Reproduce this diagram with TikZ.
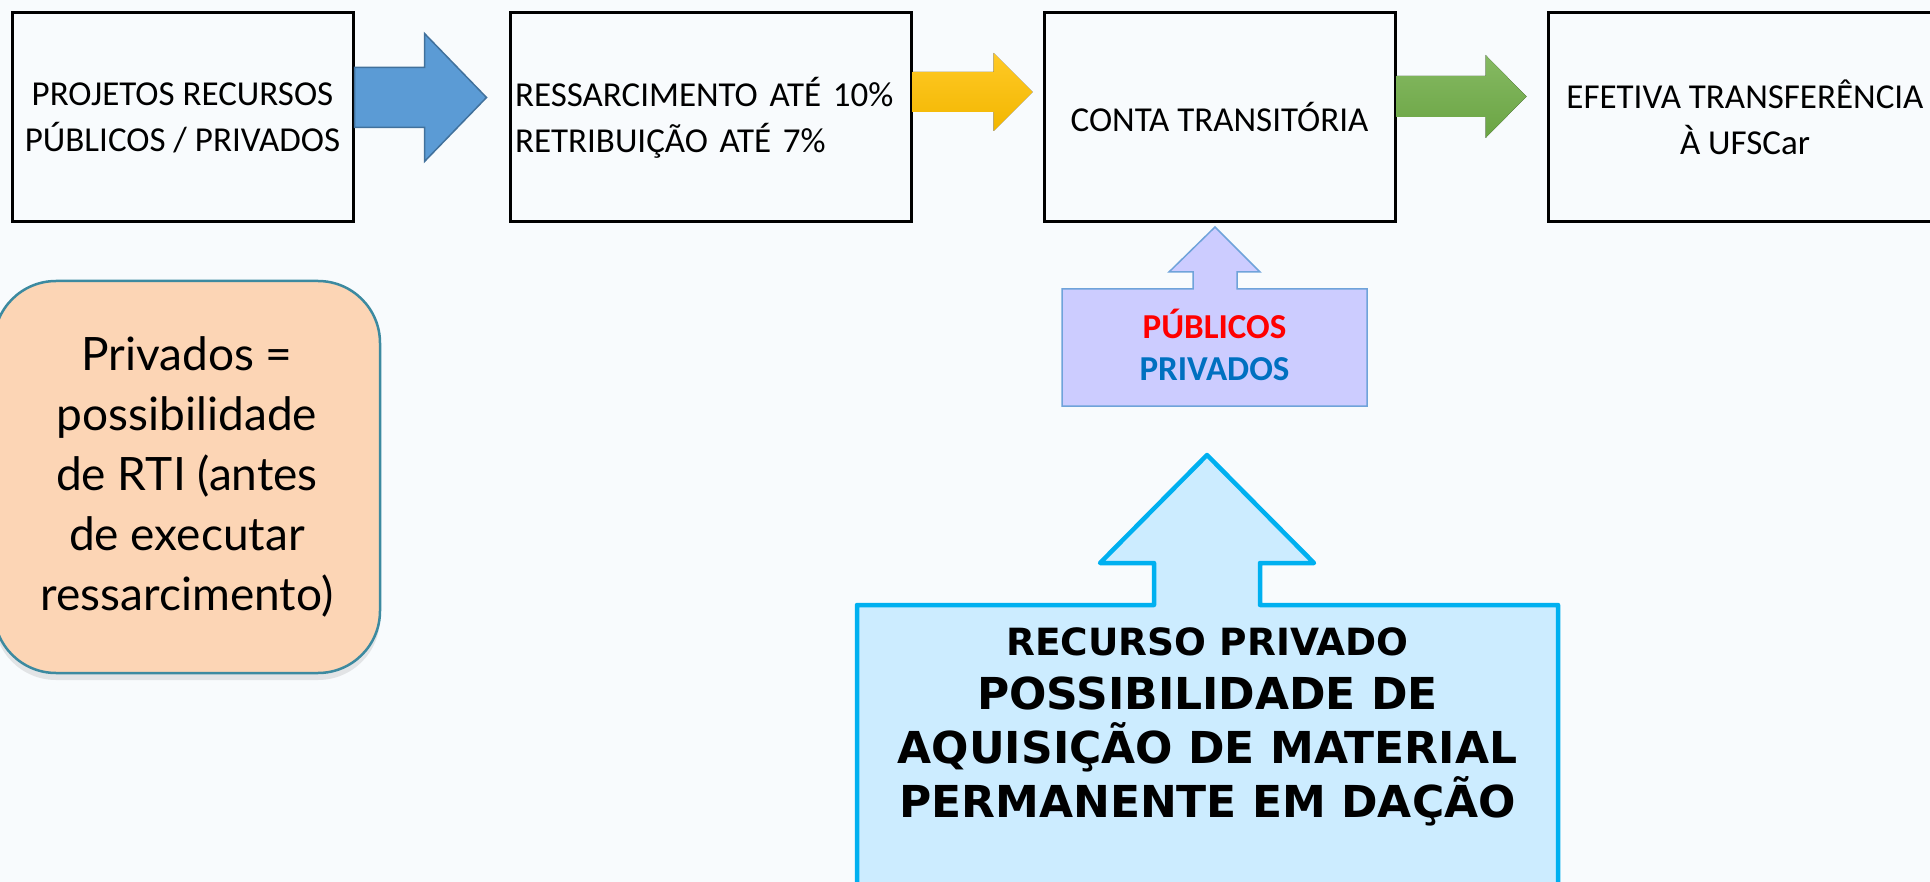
\documentclass[tikz,border=0pt]{standalone}
\usepackage{fontspec}
\setmainfont{Carlito}
\newfontfamily\gillfont{Lato}
\newfontfamily\heavyfont{DejaVu Sans}
\usetikzlibrary{positioning,calc,shadows}

\definecolor{bgcol}{RGB}{248,251,253}
\definecolor{arrblue}{HTML}{5B9BD5}
\definecolor{arrblueedge}{HTML}{41719C}
\definecolor{arryellow}{HTML}{FFC000}
\definecolor{arrgreen}{HTML}{70AD47}
\definecolor{peach}{HTML}{FCD5B5}
\definecolor{tealedge}{HTML}{3C8AA0}
\definecolor{lilac}{HTML}{CCCCFF}
\definecolor{lilacedge}{HTML}{6FA3DA}
\definecolor{pubred}{HTML}{FF0000}
\definecolor{privblue}{HTML}{0070C0}
\definecolor{skyfill}{HTML}{CCECFF}
\definecolor{skyedge}{HTML}{00B0F0}

% block arrow from one box towards the next: style, from, to, centre y, gap, shaft half, head half, head length
\newcommand{\blockarrow}[8]{%
  \path (#2.east |- 0,#4) coordinate (s) (#3.west |- 0,#4) ++(-#5,0) coordinate (t);
  \filldraw[#1] ($(s)+(0,-#6)$) -- ($(t)+(-#8,-#6)$) -- ($(t)+(-#8,-#7)$) -- (t)
    -- ($(t)+(-#8,#7)$) -- ($(t)+(-#8,#6)$) -- ($(s)+(0,#6)$) -- cycle;}

\begin{document}
\begin{tikzpicture}[x=1pt,y=-1pt,
    box/.style={draw=black,line width=3pt,fill=bgcol,minimum height=209pt,align=center,
      font=\fontsize{35}{46}\selectfont},
    privbox/.style={draw=tealedge,line width=2.5pt,fill=peach,rounded corners=62pt,
      minimum width=386pt,minimum height=392pt,align=center,
      font=\gillfont\fontsize{46}{60}\selectfont,
      drop shadow={shadow xshift=0pt,shadow yshift=-7pt,opacity=.18}},
    bluearr/.style={fill=arrblue,draw=arrblueedge,line width=1.5pt},
    yelarr/.style={top color=arryellow!85!white,bottom color=arryellow!95!black,draw=none},
    grnarr/.style={top color=arrgreen!85!white,bottom color=arrgreen!95!black,draw=none}]

    \fill[bgcol] (0,0) rectangle (1930,882);
    \useasboundingbox (0,0) rectangle (1930,882);

    \node[box,minimum width=341pt] (Proj) at (182.5,117.5) {PROJETOS RECURSOS\\PÚBLICOS / PRIVADOS};
    \node[box,minimum width=401pt,text width=391pt,inner xsep=5pt,align=left,right=154pt of Proj] (Ressarc)
      {RESSARCIMENTO ATÉ 10\%\\RETRIBUIÇÃO ATÉ 7\%};
    \node[box,minimum width=351pt,right=130pt of Ressarc] (Conta) {CONTA TRANSITÓRIA};
    \node[box,minimum width=394pt,right=150pt of Conta] (Efetiva) {EFETIVA TRANSFERÊNCIA\\À UFSCar};

    \blockarrow{bluearr}{Proj}{Ressarc}{97.5}{22}{30}{64}{62}
    \blockarrow{yelarr}{Ressarc}{Conta}{92}{10}{20}{39}{39}
    \blockarrow{grnarr}{Conta}{Efetiva}{96.5}{20}{20.5}{41.5}{41}

    \node[privbox] (Privados) at (187,477) {Privados =\\possibilidade\\de RTI (antes\\de executar\\ressarcimento)};

    % up arrow callouts
    \filldraw[fill=lilac,draw=lilacedge,line width=1.5pt] (1062,406) -- (1062,289) -- (1193,289) -- (1193,272)
      -- (1169,272) -- (1215,227) -- (1260,272) -- (1237,272) -- (1237,289) -- (1367,289) -- (1367,406) -- cycle;
    \node[align=center,font=\bfseries\fontsize{35}{42}\selectfont] (PubPriv) at (1214.5,345)
      {\textcolor{pubred}{PÚBLICOS}\\\textcolor{privblue}{PRIVADOS}};

    \filldraw[fill=skyfill,draw=skyedge,line width=4.5pt,line join=round] (857,900) -- (857,605) -- (1154,605)
      -- (1154,563) -- (1100,563) -- (1207,455) -- (1314,563) -- (1260,563) -- (1260,605) -- (1558,605)
      -- (1558,900) -- cycle;
    \node[align=center,font=\heavyfont\bfseries\fontsize{44}{54}\selectfont] (Dacao) at (1207.5,727)
      {{\fontsize{37.5}{54}\selectfont RECURSO PRIVADO}\\POSSIBILIDADE DE\\AQUISIÇÃO DE MATERIAL\\PERMANENTE EM DAÇÃO};

\end{tikzpicture}
\end{document}
